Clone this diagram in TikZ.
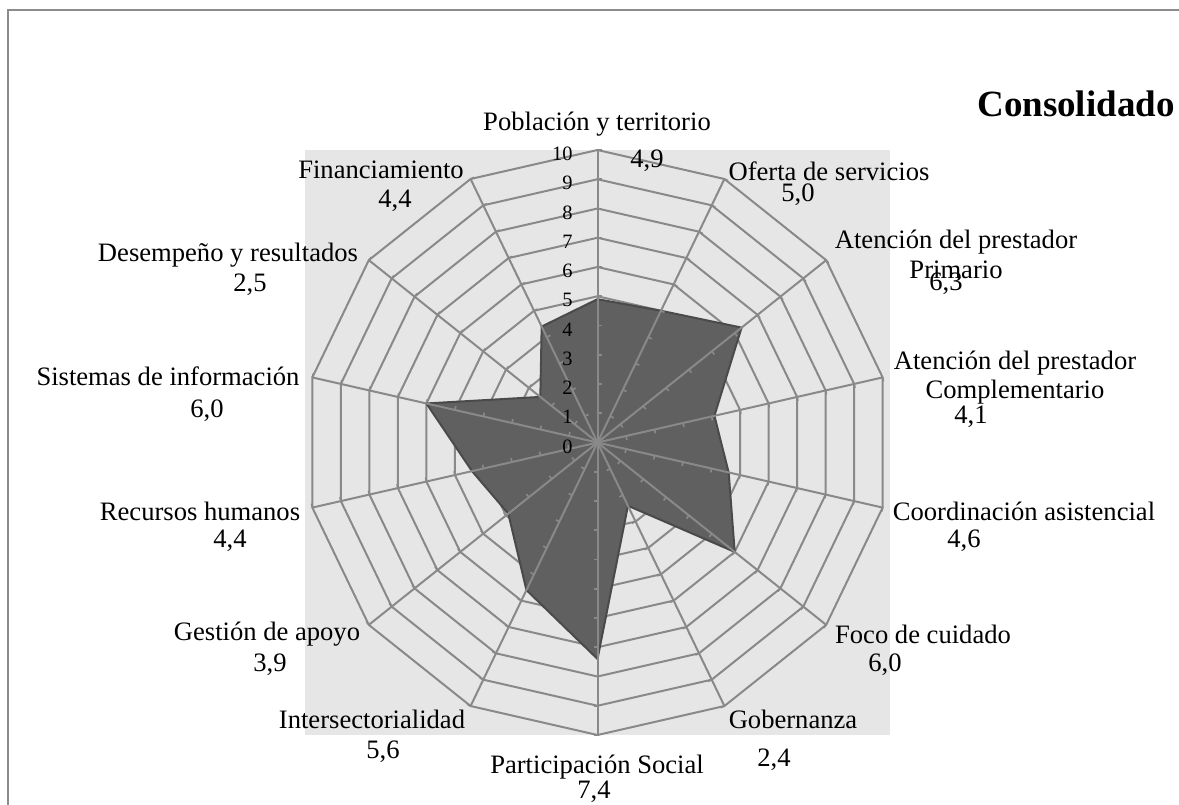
\documentclass[tikz,border=0pt]{standalone}
\usepackage{fontspec}
\setmainfont{Liberation Serif}
\definecolor{bgc}{HTML}{E6E6E6}
\definecolor{gridc}{HTML}{898989}
\definecolor{fillc}{HTML}{606060}
\definecolor{edgec}{HTML}{4A4A4A}
\definecolor{framec}{HTML}{8C8C8C}
\tikzset{
  lab/.style={anchor=base,inner sep=0pt,font=\fontsize{13.3pt}{15pt}\selectfont},
  axnum/.style={anchor=base east,inner sep=0pt,font=\fontsize{10.2pt}{12pt}\selectfont},
  gridline/.style={draw=gridc,line width=1pt,line join=miter},
  tickline/.style={draw=gridc,line width=0.8pt},
  dataarea/.style={fill=fillc,draw=edgec,line width=1pt,line join=miter},
  titlestyle/.style={anchor=base,inner sep=0pt,font=\fontsize{18.5pt}{22pt}\selectfont\bfseries},
}
\begin{document}
\begin{tikzpicture}[x=0.5pt,y=-0.5pt]
\useasboundingbox (0,0) rectangle (1179,804);
\begin{scope}
  \clip (0,0) rectangle (1179,804);
  \fill[white] (0,0) rectangle (1179,804);
  \draw[framec,line width=1pt] (7.5,9.5) rectangle (1200,830);
\end{scope}
% plot area
\fill[bgc] (305,150) rectangle (890,735);
\begin{scope}[shift={(597.5,442.5)},yscale=-1]
  \coordinate (O) at (0,0);
  % grid polygons
  \foreach \k in {1,...,10}{
    \draw[gridline] (90:{\k*29.25}) \foreach \i in {1,...,13}{ -- ({90-\i*360/14}:{\k*29.25}) } -- cycle;
  }
  % data points
  \foreach \v [count=\i from 0] in {4.9,5.0,6.3,4.1,4.6,6.0,2.4,7.4,5.6,3.9,4.4,6.0,2.5,4.4}{
    \coordinate (D\i) at ({90-\i*360/14}:{\v*29.25});
  }
  \foreach \i in {0,...,13}{
    \coordinate (A\i) at ({90-\i*360/14}:292.5);
  }
  \path[dataarea] (D0) -- (D1) -- (D2) -- (D3) -- (D4) -- (D5) -- (D6) -- (D7)
     -- (D8) -- (D9) -- (D10) -- (D11) -- (D12) -- (D13) -- cycle;
  % spokes with ticks
  \foreach \i in {0,...,13}{
    \draw[gridline] (O) -- (A\i);
    \foreach \k in {1,...,10}{
      \draw[tickline] ({90-\i*360/14}:{\k*29.25}) -- ++({-\i*360/14}:4);
    }
  }
\end{scope}
% value axis numbers
\foreach \k in {0,...,10}{
  \node[axnum] (n\k) at (573,{453-\k*29.25}) {\k};
}
% title
\node[titlestyle] (title) at (1076,116) {Consolidado};
% category labels and values
\node[lab] (l0) at (597,130) {Población y territorio};
\node[lab] (v0) at (647,167) {4,9};
\node[lab] (l1) at (829,180) {Oferta de servicios};
\node[lab] (v1) at (798,201) {5,0};
\node[lab] (l2a) at (956,248) {Atención del prestador};
\node[lab] (l2b) at (956,278) {Primario};
\node[lab] (v2) at (946,290) {6,3};
\node[lab] (l3a) at (1015,369) {Atención del prestador};
\node[lab] (l3b) at (1015,398) {Complementario};
\node[lab] (v3) at (971,423) {4,1};
\node[lab] (l4) at (1024,520) {Coordinación asistencial};
\node[lab] (v4) at (964,547) {4,6};
\node[lab] (l5) at (923,643) {Foco de cuidado};
\node[lab] (v5) at (885,671) {6,0};
\node[lab] (l6) at (793,728) {Gobernanza};
\node[lab] (v6) at (774,766) {2,4};
\node[lab] (l7) at (597,773) {Participación Social};
\node[lab] (v7) at (594,798) {7,4};
\node[lab] (l8) at (372,728) {Intersectorialidad};
\node[lab] (v8) at (383,758) {5,6};
\node[lab] (l9) at (267,640) {Gestión de apoyo};
\node[lab] (v9) at (270,671) {3,9};
\node[lab] (l10) at (200,520) {Recursos humanos};
\node[lab] (v10) at (230,547) {4,4};
\node[lab] (l11) at (168,385) {Sistemas de información};
\node[lab] (v11) at (207,417) {6,0};
\node[lab] (l12) at (228,261) {Desempeño y resultados};
\node[lab] (v12) at (250,291) {2,5};
\node[lab] (l13) at (381,178) {Financiamiento};
\node[lab] (v13) at (395,207) {4,4};
\end{tikzpicture}
\end{document}
